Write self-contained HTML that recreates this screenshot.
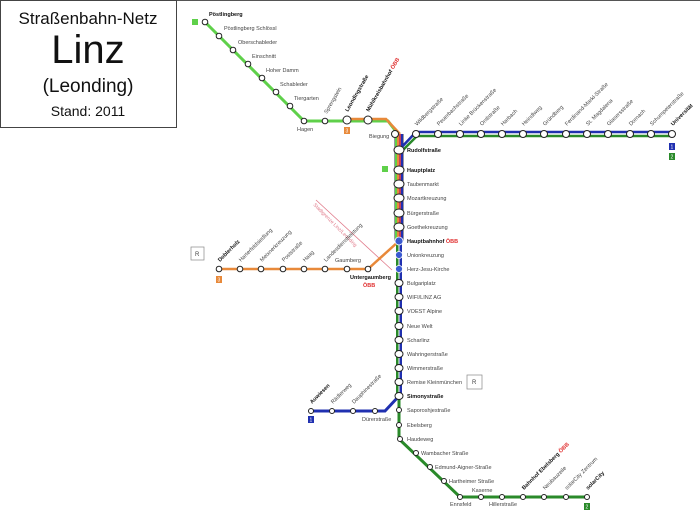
<!DOCTYPE html>
<html><head><meta charset="utf-8"><style>
html,body{margin:0;padding:0;background:#fff;}
svg{display:block}
text{font-family:"Liberation Sans",sans-serif;font-size:5.5px;fill:#444}
.b{font-weight:bold;fill:#111}
.r{fill:#e03030}
</style></head><body>
<svg width="700" height="515" viewBox="0 0 700 515" xmlns="http://www.w3.org/2000/svg">
<rect x="0" y="0" width="700" height="515" fill="#fff"/>
<line x1="0" y1="0.5" x2="700" y2="0.5" stroke="#555" stroke-width="1"/>
<rect x="0.5" y="0.5" width="176" height="127" fill="#fff" stroke="#444" stroke-width="1"/>
<text x="88" y="24" text-anchor="middle" style="font-size:17px;fill:#111">Straßenbahn-Netz</text>
<text x="88" y="63" text-anchor="middle" style="font-size:40px;fill:#111">Linz</text>
<text x="88" y="92" text-anchor="middle" style="font-size:19px;fill:#111">(Leonding)</text>
<text x="88" y="116" text-anchor="middle" style="font-size:14px;fill:#111">Stand: 2011</text>

<line x1="316" y1="200" x2="392" y2="270" stroke="#e07a8a" stroke-width="0.8"/>
<text x="0" y="0" transform="translate(313,205) rotate(45)" style="fill:#e07a8a;font-size:5px">Stadtgrenze Linz/Leonding</text>

<polyline points="205,22 304,121 368,121 388,121 398,134 398,150" fill="none" stroke="#5fd04a" stroke-width="3"/>
<polyline points="347,119 386,119 400,134" fill="none" stroke="#e8893a" stroke-width="2.5"/>
<polyline points="219,269 368,269 399,241" fill="none" stroke="#e8893a" stroke-width="2.5"/>
<rect x="394.5" y="134" width="9" height="107" fill="#334"/>
<rect x="395" y="134" width="2" height="107" fill="#5fd04a"/>
<rect x="397" y="134" width="2" height="107" fill="#e8893a"/>
<rect x="399" y="134" width="2" height="107" fill="#c04060"/>
<rect x="401" y="134" width="2" height="107" fill="#2030b0"/>
<rect x="396" y="241" width="2.5" height="155" fill="#2a8a2a"/>
<rect x="399.5" y="241" width="2.5" height="155" fill="#2030b0"/>
<polyline points="399,150 416,132 672,132" fill="none" stroke="#2030b0" stroke-width="2.5"/>
<polyline points="401,152 417,136 672,136" fill="none" stroke="#2a8a2a" stroke-width="2.5"/>
<polyline points="399,396 385,411 311,411" fill="none" stroke="#2030b0" stroke-width="3"/>
<polyline points="399,396 399,439 460,497 587,497" fill="none" stroke="#2a8a2a" stroke-width="3"/>

<rect x="192" y="19" width="6" height="6" fill="#5fd04a"/>
<rect x="344" y="127" width="6" height="7" fill="#e8893a"/><text x="345.5" y="132.5" style="fill:#fff;font-size:5px">3</text>
<rect x="382" y="166" width="6" height="6" fill="#5fd04a"/>
<rect x="669" y="143" width="6" height="7" fill="#2030b0"/><text x="670.5" y="148.5" style="fill:#fff;font-size:5px">1</text>
<rect x="669" y="153" width="6" height="7" fill="#2a8a2a"/><text x="670.5" y="158.5" style="fill:#fff;font-size:5px">2</text>
<rect x="216" y="276" width="6" height="7" fill="#e8893a"/><text x="217.5" y="281.5" style="fill:#fff;font-size:5px">3</text>
<rect x="308" y="416" width="6" height="7" fill="#2030b0"/><text x="309.5" y="421.5" style="fill:#fff;font-size:5px">1</text>
<rect x="584" y="503" width="6" height="7" fill="#2a8a2a"/><text x="585.5" y="508.5" style="fill:#fff;font-size:5px">2</text>
<rect x="191" y="247" width="13" height="13" fill="#fff" stroke="#888" stroke-width="0.7"/><text x="195" y="256" style="font-size:6px">R</text>
<rect x="467" y="375" width="15" height="14" fill="#fff" stroke="#888" stroke-width="0.7"/><text x="472" y="384" style="font-size:6px">R</text>

<g fill="#fff" stroke="#222" stroke-width="1">
<circle cx="205" cy="22" r="2.8"/><circle cx="219" cy="36" r="2.8"/><circle cx="233" cy="50" r="2.8"/><circle cx="248" cy="64" r="2.8"/><circle cx="262" cy="78" r="2.8"/><circle cx="276" cy="92" r="2.8"/><circle cx="290" cy="106" r="2.8"/><circle cx="304" cy="121" r="2.8"/><circle cx="325" cy="121" r="2.8"/>
<circle cx="347" cy="120" r="4"/><circle cx="368" cy="120" r="4"/><circle cx="395" cy="134" r="3.5"/>
<circle cx="416" cy="134" r="3.5"/><circle cx="438" cy="134" r="3.5"/><circle cx="460" cy="134" r="3.5"/><circle cx="481" cy="134" r="3.5"/><circle cx="502" cy="134" r="3.5"/><circle cx="523" cy="134" r="3.5"/><circle cx="544" cy="134" r="3.5"/><circle cx="566" cy="134" r="3.5"/><circle cx="587" cy="134" r="3.5"/><circle cx="608" cy="134" r="3.5"/><circle cx="630" cy="134" r="3.5"/><circle cx="651" cy="134" r="3.5"/><circle cx="672" cy="134" r="3.5"/>
<ellipse cx="399" cy="150" rx="5" ry="4"/><ellipse cx="399" cy="170" rx="5" ry="4"/><ellipse cx="399" cy="184" rx="5" ry="4"/><ellipse cx="399" cy="198" rx="5" ry="4"/><ellipse cx="399" cy="213" rx="5" ry="4"/><ellipse cx="399" cy="227" rx="5" ry="4"/>
<ellipse cx="399" cy="283" rx="4" ry="3.5"/><ellipse cx="399" cy="297" rx="4" ry="3.5"/><ellipse cx="399" cy="311" rx="4" ry="3.5"/><ellipse cx="399" cy="326" rx="4" ry="3.5"/><ellipse cx="399" cy="340" rx="4" ry="3.5"/><ellipse cx="399" cy="354" rx="4" ry="3.5"/><ellipse cx="399" cy="368" rx="4" ry="3.5"/><ellipse cx="399" cy="382" rx="4" ry="3.5"/><ellipse cx="399" cy="396" rx="4" ry="3.5"/>
<circle cx="399" cy="410" r="2.5"/><circle cx="399" cy="425" r="2.5"/><circle cx="400" cy="439" r="2.5"/><circle cx="416" cy="453" r="2.5"/><circle cx="430" cy="467" r="2.5"/><circle cx="444" cy="481" r="2.5"/><circle cx="460" cy="497" r="2.5"/><circle cx="481" cy="497" r="2.5"/><circle cx="502" cy="497" r="2.5"/><circle cx="523" cy="497" r="2.5"/><circle cx="544" cy="497" r="2.5"/><circle cx="566" cy="497" r="2.5"/><circle cx="587" cy="497" r="2.5"/>
<circle cx="311" cy="411" r="2.5"/><circle cx="332" cy="411" r="2.5"/><circle cx="353" cy="411" r="2.5"/><circle cx="375" cy="411" r="2.5"/>
<circle cx="219" cy="269" r="2.8"/><circle cx="240" cy="269" r="2.8"/><circle cx="261" cy="269" r="2.8"/><circle cx="283" cy="269" r="2.8"/><circle cx="304" cy="269" r="2.8"/><circle cx="325" cy="269" r="2.8"/><circle cx="347" cy="269" r="2.8"/><circle cx="368" cy="269" r="2.8"/>
</g>
<g fill="#3a5ad0" stroke="#fff" stroke-width="0.8">
<circle cx="399" cy="241" r="4"/><circle cx="399" cy="255" r="3.5"/><circle cx="399" cy="269" r="3.5"/>
</g>

<text x="209" y="16" class="b">Pöstlingberg</text>
<text x="224" y="30">Pöstlingberg Schlössl</text>
<text x="238" y="44">Oberschableder</text>
<text x="252" y="58">Einschnitt</text>
<text x="266" y="72">Hoher Damm</text>
<text x="280" y="86">Schableder</text>
<text x="294" y="100">Tiergarten</text>
<text x="297" y="131">Hagen</text>
<text x="369" y="138">Biegung</text>
<text transform="translate(327,114) rotate(-60)">Sprengstein</text>
<text class="b" transform="translate(348,112) rotate(-60)">Leondingstraße</text>
<text class="b" transform="translate(369,112) rotate(-60)">Mühlkreisbahnhof <tspan class="r">ÖBB</tspan></text>
<text transform="translate(417,126) rotate(-45)">Wildbergstraße</text>
<text transform="translate(439,126) rotate(-45)">Peuerbachstraße</text>
<text transform="translate(461,126) rotate(-45)">Linke Brückenstraße</text>
<text transform="translate(482,126) rotate(-45)">Ontlstraße</text>
<text transform="translate(503,126) rotate(-45)">Harbach</text>
<text transform="translate(524,126) rotate(-45)">Heindlweg</text>
<text transform="translate(545,126) rotate(-45)">Gründberg</text>
<text transform="translate(567,126) rotate(-45)">Ferdinand-Markl-Straße</text>
<text transform="translate(588,126) rotate(-45)">St. Magdalena</text>
<text transform="translate(609,126) rotate(-45)">Glasersstraße</text>
<text transform="translate(631,126) rotate(-45)">Dornach</text>
<text transform="translate(652,126) rotate(-45)">Schumpeterstraße</text>
<text class="b" transform="translate(673,126) rotate(-45)">Universität</text>
<text x="407" y="152" class="b">Rudolfstraße</text>
<text x="407" y="172" class="b">Hauptplatz</text>
<text x="407" y="186">Taubenmarkt</text>
<text x="407" y="200">Mozartkreuzung</text>
<text x="407" y="215">Bürgerstraße</text>
<text x="407" y="229">Goethekreuzung</text>
<text x="407" y="243" class="b">Hauptbahnhof <tspan class="r">ÖBB</tspan></text>
<text x="407" y="257">Unionkreuzung</text>
<text x="407" y="271">Herz-Jesu-Kirche</text>
<text x="407" y="285">Bulgariplatz</text>
<text x="407" y="299">WIFI/LINZ AG</text>
<text x="407" y="313">VOEST Alpine</text>
<text x="407" y="328">Neue Welt</text>
<text x="407" y="342">Scharlinz</text>
<text x="407" y="356">Wahringerstraße</text>
<text x="407" y="370">Wimmerstraße</text>
<text x="407" y="384">Remise Kleinmünchen</text>
<text x="407" y="398" class="b">Simonystraße</text>
<text x="407" y="412">Saporoshjestraße</text>
<text x="407" y="427">Ebelsberg</text>
<text x="407" y="441">Haudeweg</text>
<text x="421" y="455">Wambacher Straße</text>
<text x="435" y="469">Edmund-Aigner-Straße</text>
<text x="449" y="483">Hartheimer Straße</text>
<text x="450" y="506">Ennsfeld</text>
<text x="472" y="492">Kaserne</text>
<text x="489" y="506">Hillerstraße</text>
<text class="b" transform="translate(524,490) rotate(-45)">Bahnhof Ebelsberg <tspan class="r">ÖBB</tspan></text>
<text transform="translate(545,490) rotate(-45)">Neubauzeile</text>
<text transform="translate(567,490) rotate(-45)">solarCity Zentrum</text>
<text class="b" transform="translate(588,490) rotate(-45)">solarCity</text>
<text class="b" transform="translate(312,404) rotate(-45)">Auwiesen</text>
<text transform="translate(333,404) rotate(-45)">Rädlerweg</text>
<text transform="translate(354,404) rotate(-45)">Dauphinestraße</text>
<text x="362" y="421">Dürerstraße</text>
<text class="b" transform="translate(220,262) rotate(-45)">Doblerholz</text>
<text transform="translate(241,262) rotate(-45)">Harterfeldsiedlung</text>
<text transform="translate(262,262) rotate(-45)">Meixnerkreuzung</text>
<text transform="translate(284,262) rotate(-45)">Poststraße</text>
<text transform="translate(305,262) rotate(-45)">Haag</text>
<text transform="translate(326,262) rotate(-45)">Landesdienstleistung</text>
<text x="335" y="262">Gaumberg</text>
<text x="350" y="279" class="b">Untergaumberg</text>
<text x="363" y="287" class="r b">ÖBB</text>
</svg>
</body></html>
